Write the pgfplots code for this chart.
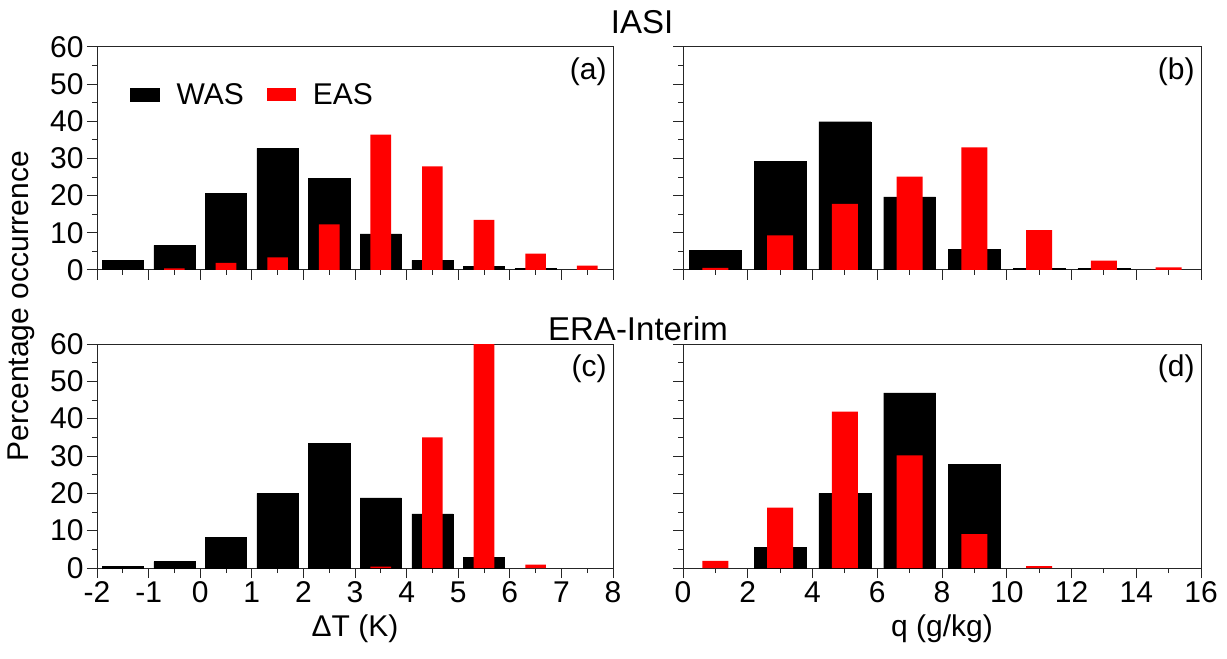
\documentclass[border=0pt]{standalone}
\usepackage{fontspec}
\setmainfont{Liberation Sans}
\usepackage{pgfplots}
\pgfplotsset{compat=1.18}
\newcommand\tk{\fontsize{30}{34}\selectfont}
\newcommand\tl{\fontsize{33}{38}\selectfont}
\pgfplotsset{
 panel/.style={
  scale only axis, width=516pt, height=223pt,
  ymin=0, ymax=60, ytick={0,10,...,60}, minor y tick num=1,
  minor x tick num=1,
  tick align=outside, xtick pos=left, ytick pos=left,
  major tick length=10pt, minor tick length=5pt,
  axis line style={line width=1pt, black!85},
  tick style={line width=1pt, black!85},
  tick label style={font=\tk},
  label style={font=\tk},
  xlabel style={yshift=-5pt},
  /pgf/number format/assume math mode=true,
  ybar,
 },
 blk/.style={fill=black, draw=black, line width=0.4pt, bar shift=0pt, bar width=#1},
 rd/.style={fill=red, draw=none, bar shift=0pt, bar width=#1},
}
\begin{document}
\begin{tikzpicture}
\useasboundingbox (0,0) rectangle (1227pt,659pt);
% (a)
\begin{axis}[panel, at={(97pt,389pt)}, anchor=south west,
  xmin=-2, xmax=8, xtick={-2,-1,...,8}, xticklabels={},
  legend columns=2,
  legend style={draw=none, fill=none, at={(rel axis cs:0.064,0.785)}, anchor=west,
    font=\tk, inner sep=0pt,
    /tikz/every odd column/.append style={column sep=15pt},
    /tikz/every even column/.append style={column sep=21pt}},
  legend image code/.code={\fill[#1] (0pt,-6.5pt) rectangle (29pt,6.5pt);},
]
\addplot[blk=0.8] coordinates {(-1.5,2.6)(-0.5,6.6)(0.5,20.7)(1.5,32.7)(2.5,24.7)(3.5,9.7)(4.5,2.6)(5.5,0.9)(6.5,0.4)};
\addlegendentry{WAS}
\addplot[rd=0.4] coordinates {(-0.5,0.45)(0.5,1.9)(1.5,3.4)(2.5,12.3)(3.5,36.4)(4.5,27.9)(5.5,13.5)(6.5,4.4)(7.5,1.2)};
\addlegendentry{EAS}
\node[anchor=north east, inner sep=0pt, font=\tk] at (rel axis cs:0.988,0.951) {(a)};
\end{axis}
% (b)
\begin{axis}[panel, at={(683pt,389pt)}, anchor=south west, width=518pt,
  xmin=0, xmax=16, xtick={0,2,...,16}, xticklabels={}, yticklabels={},
]
\addplot[blk=1.6] coordinates {(1,5.2)(3,29.2)(5,39.9)(7,19.7)(9,5.6)(11,0.4)(13,0.4)};
\addplot[rd=0.8] coordinates {(1,0.6)(3,9.3)(5,17.8)(7,25.1)(9,33.0)(11,10.7)(13,2.5)(15,0.7)};
\node[anchor=north east, inner sep=0pt, font=\tk] at (rel axis cs:0.988,0.951) {(b)};
\end{axis}
% (c)
\begin{axis}[panel, at={(97pt,91pt)}, anchor=south west, height=224pt,
  xmin=-2, xmax=8, xtick={-2,-1,...,8},
  xlabel={ΔT (K)},
]
\addplot[blk=0.8] coordinates {(-1.5,0.36)(-0.5,1.7)(0.5,8.3)(1.5,20.0)(2.5,33.4)(3.5,18.8)(4.5,14.5)(5.5,2.9)};
\addplot[rd=0.4] coordinates {(3.5,0.4)(4.5,35.0)(5.5,60)(6.5,0.9)};
\node[anchor=north east, inner sep=0pt, font=\tk] at (rel axis cs:0.988,0.951) {(c)};
\end{axis}
% (d)
\begin{axis}[panel, at={(683pt,91pt)}, anchor=south west, width=518pt, height=224pt,
  xmin=0, xmax=16, xtick={0,2,...,16}, yticklabels={},
  xlabel={q (g/kg)},
]
\addplot[blk=1.6] coordinates {(3,5.6)(5,20.0)(7,46.9)(9,27.7)};
\addplot[rd=0.8] coordinates {(1,1.9)(3,16.2)(5,41.9)(7,30.2)(9,9.1)(11,0.5)};
\node[anchor=north east, inner sep=0pt, font=\tk] at (rel axis cs:0.988,0.951) {(d)};
\end{axis}
\node[font=\tl] at (642pt,637pt) {IASI};
\node[font=\tl] at (638pt,330pt) {ERA-Interim};
\node[font=\tk, rotate=90] at (21pt,353pt) {Percentage occurrence};
\end{tikzpicture}
\end{document}
